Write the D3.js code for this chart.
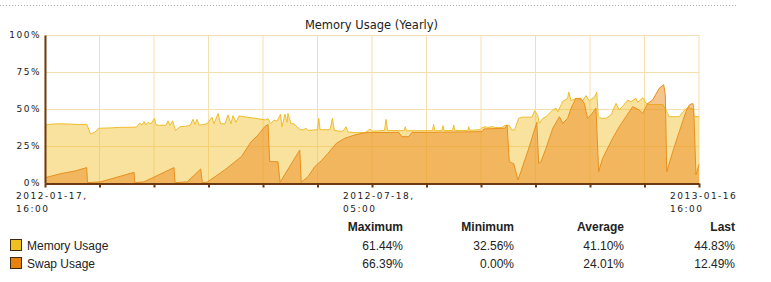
<!DOCTYPE html>
<html>
<head>
<meta charset="utf-8">
<script src="https://cdn.jsdelivr.net/npm/d3@7"></script>
<style>
  body { margin: 0; background: #fff; }
  .tick-lbl { font-family: "DejaVu Sans", Verdana, sans-serif; font-size: 9px; letter-spacing: 1.5px; fill: #222; }
  .legend { font-family: "Liberation Sans", Arial, sans-serif; font-size: 12px; fill: #222; }
</style>
</head>
<body>
<svg id="chart" width="771" height="282"></svg>
<script>
// [day since 2012-01-17 16:00, percent]
var memoryUsage = [[0,39.2],[4,39.8],[8,40],[14,39.8],[19,39.5],[23.4,39.6],[25.4,33],[28,34.5],[30,37],[36,37.2],[42,37.6],[47,37.6],[51,37.8],[53,40.5],[54,39],[55.3,41.5],[56.4,39.2],[57.5,41],[59.2,40],[61.1,43.7],[62,39.2],[64,39],[67.5,39],[68.6,42],[69.8,39],[71.2,42],[72.8,35.5],[75.3,38],[78,38.3],[81,38.8],[82.6,43],[83.7,39.5],[84.8,43],[86,39],[88,39.5],[90.4,40],[93.2,44.4],[94.3,40],[96.6,47],[98,40],[100.5,40],[102.1,46],[103.8,40],[104.9,45.5],[106.6,41],[108.3,45.3],[114.4,44.2],[120,43.2],[122.8,42.6],[124.5,43.5],[125.9,40],[127.8,42.5],[129.5,41.8],[131.4,46.5],[132.3,38],[133.9,46.5],[135.1,41],[135.6,47],[137.3,40],[139,40],[140.1,38.5],[142.3,36.2],[144,35.8],[145.7,37],[146.8,35.5],[149.6,35.8],[152,36],[152.8,43.7],[153.5,36],[156.3,36],[159.1,36],[160.4,43.7],[161.5,35.5],[164.6,35],[166.3,35],[168,38],[169.1,34.5],[173,34],[178.6,34],[181.4,36.5],[182.5,35],[186.9,35.3],[189.5,35.5],[190.3,43],[191.2,35.5],[195.3,35.5],[198.1,35.3],[200.5,35.5],[201.1,38],[201.7,35.3],[210,35.3],[216.3,35.4],[216.9,39.6],[217.5,35.4],[221.5,35.4],[222.1,38.7],[222.7,35.4],[227.5,35.5],[228.1,39.2],[228.7,35.5],[236,35.5],[236.5,38],[237,35.6],[242.8,36],[243.9,37.4],[245.6,38],[247,37.4],[249.5,38.2],[251,37.4],[255.1,37.5],[256.7,39],[259,39],[260.6,35.8],[262,35.8],[264.4,43.7],[266.2,44.5],[271.8,44.5],[273.3,48.9],[275,45.5],[275.9,40.3],[277.8,43.7],[279.6,44.8],[283.4,49.3],[285.2,50.5],[286.1,48],[288.9,55],[291.7,57.2],[292.3,61.4],[293.6,55.6],[296.3,57.2],[300.1,55.6],[301.9,59],[303.8,55.6],[306.6,57.9],[307.9,61.4],[308.8,45],[310.3,43.7],[313.1,43.7],[315.9,46],[318.7,53.8],[320.5,49.5],[322.4,51.8],[325.2,56],[327,55],[329.8,57.2],[330.8,54.5],[333.6,57.6],[335.4,54],[337.1,53],[344.9,53],[345.6,51.4],[347.5,47],[348.3,44.8],[354,44.8],[355.9,48],[358.7,51],[361.5,50],[362.4,44.8],[365,44.83]];

var swapUsage = [[0,3.6],[9.5,6.5],[16.7,8.1],[23.3,10.4],[23.7,0.2],[31.1,0.8],[49.7,7.2],[50.1,0.2],[55.3,0.8],[72,10.4],[72.6,0.2],[79.4,0.8],[86.9,9.5],[87.8,0.2],[90.4,0.5],[100.3,8.8],[109.6,17.8],[115.1,28],[118.9,32.4],[122.6,38],[124.5,39.6],[125.4,14.4],[130,14.4],[131.2,0.5],[142.2,22.3],[143,0.5],[146.8,4.3],[150.5,11],[154.2,15],[157.9,20],[162.6,26.8],[167.3,30.2],[172.8,32.4],[178.4,34],[197.4,34.2],[199.2,31.3],[203,31.3],[204.8,34.2],[214.1,34.2],[243.9,34.7],[245,36.5],[256.7,37],[257.9,39.2],[259.1,14.4],[261.6,13],[264,2],[269.6,22],[274.5,41],[275.5,13.3],[276.8,14.4],[279.6,23.4],[283.4,37],[287.1,44.8],[288.9,40.3],[291.7,43.7],[293.6,50.5],[296.3,57.2],[299.1,57.2],[301,53.8],[302.8,43.7],[304.7,46],[307.5,50.5],[309,7.6],[311.2,16.7],[316.8,30.2],[320.5,38],[324.2,44.8],[328,51.6],[331.7,49.3],[333.6,47],[336.4,53.8],[339.1,56],[342.8,64],[345.3,66.39],[346.2,59.5],[347,7.6],[350.3,21],[354,34.7],[357.7,48.2],[359.6,52.7],[361.5,53.8],[362,51.6],[363.3,5.4],[365,12.49]];

var yTicks = [0, 25, 50, 75, 100];
var xTickDays = [0, 182.5, 365];
var xTickLabels = [["2012-01-17,", "16:00"], ["2012-07-18,", "05:00"], ["2013-01-16", "16:00"]];

var seriesNames = ["Memory Usage", "Swap Usage"];
var statHeaders = ["Maximum", "Minimum", "Average", "Last"];
var maxVals = ["61.44%", "66.39%"];
var minVals = ["32.56%", "0.00%"];
var avgVals = ["41.10%", "24.01%"];
var lastVals = ["44.83%", "12.49%"];

var svg = d3.select("#chart");
var x = d3.scaleLinear().domain([0, 365]).range([45, 699]);
var y = d3.scaleLinear().domain([0, 100]).range([183, 35]);
var axisColor = "#6b3a12", gridColor = "#f6dfae";

// dotted rule on top
svg.append("line").attr("x1", 0).attr("x2", 736).attr("y1", 5.5).attr("y2", 5.5)
  .attr("stroke", "#aaa").attr("stroke-dasharray", "1,2");

svg.append("text").attr("x", 371.5).attr("y", 29).attr("text-anchor", "middle")
  .style("font-family", "'DejaVu Sans', Verdana, sans-serif").style("font-size", "11.5px").style("fill", "#222")
  .text("Memory Usage (Yearly)");

// grid
var gridDays = d3.range(13).map(function(i) { return i * 365 / 12; });
svg.append("g").selectAll("line").data(gridDays).enter().append("line")
  .attr("x1", function(d) { return x(d); }).attr("x2", function(d) { return x(d); })
  .attr("y1", y(100)).attr("y2", y(0)).attr("stroke", gridColor);
svg.append("g").selectAll("line").data(yTicks.slice(1)).enter().append("line")
  .attr("x1", x(0)).attr("x2", x(365))
  .attr("y1", function(d) { return y(d) + 0.5; }).attr("y2", function(d) { return y(d) + 0.5; })
  .attr("stroke", gridColor);

// areas
var area = d3.area().x(function(d) { return x(d[0]); }).y0(y(0)).y1(function(d) { return y(d[1]); });
var line = d3.line().x(function(d) { return x(d[0]); }).y(function(d) { return y(d[1]); });

svg.append("path").attr("d", area(memoryUsage)).attr("fill", "rgba(240,190,40,0.45)");
svg.append("path").attr("d", line(memoryUsage)).attr("fill", "none").attr("stroke", "#f0bd2c").attr("stroke-width", 1);
svg.append("path").attr("d", area(swapUsage)).attr("fill", "rgba(235,140,30,0.5)");
svg.append("path").attr("d", line(swapUsage)).attr("fill", "none").attr("stroke", "#e8901e").attr("stroke-width", 1);

// axes
var xAxis = d3.axisBottom(x).tickValues(gridDays).tickFormat("").tickSize(4).tickSizeOuter(0);
var gx = svg.append("g").attr("transform", "translate(0," + 183.5 + ")").call(xAxis);
gx.select(".domain").attr("stroke", axisColor).attr("stroke-width", 2);
gx.selectAll(".tick line").attr("stroke", axisColor).attr("stroke-width", 2);

var yAxis = d3.axisLeft(y).tickValues(yTicks).tickFormat(function(d) { return d + "%"; }).tickSize(0).tickPadding(4).tickSizeOuter(0);
var gy = svg.append("g").attr("transform", "translate(" + 45 + ",0)").call(yAxis);
gy.select(".domain").attr("stroke", axisColor).attr("stroke-width", 2);
gy.selectAll(".tick text").attr("class", "tick-lbl").attr("font-family", null).attr("font-size", null);
gy.attr("font-family", null).attr("font-size", null);

// x labels
var xl = svg.append("g").selectAll("text").data(xTickDays).enter().append("text")
  .attr("class", "tick-lbl")
  .attr("x", function(d) { return x(d) - 29; }).attr("y", 199);
xl.selectAll("tspan").data(function(d, i) { return xTickLabels[i]; }).enter().append("tspan")
  .attr("x", function() { return d3.select(this.parentNode).attr("x"); })
  .attr("dy", function(d, i) { return i ? 13 : 0; })
  .text(function(d) { return d; });

// legend table
var colRight = [403, 514, 624, 735];
var rowY = [250, 268];
var swatch = ["#f0c020", "#e8820c"];
var lg = svg.append("g").attr("class", "legend");
lg.selectAll("text.hdr").data(statHeaders).enter().append("text")
  .attr("x", function(d, i) { return colRight[i]; }).attr("y", 231)
  .attr("text-anchor", "end").style("font-weight", "bold").text(function(d) { return d; });
lg.selectAll("rect").data(seriesNames).enter().append("rect")
  .attr("x", 10.5).attr("y", function(d, i) { return rowY[i] - 10.5; })
  .attr("width", 11).attr("height", 11)
  .attr("fill", function(d, i) { return swatch[i]; }).attr("stroke", "#3a2a10");
lg.selectAll("text.name").data(seriesNames).enter().append("text")
  .attr("x", 27).attr("y", function(d, i) { return rowY[i]; }).text(function(d) { return d; });
[maxVals, minVals, avgVals, lastVals].forEach(function(col, c) {
  lg.selectAll(null).data(col).enter().append("text")
    .attr("x", colRight[c]).attr("y", function(d, i) { return rowY[i]; })
    .attr("text-anchor", "end").text(function(d) { return d; });
});
</script>
</body>
</html>
